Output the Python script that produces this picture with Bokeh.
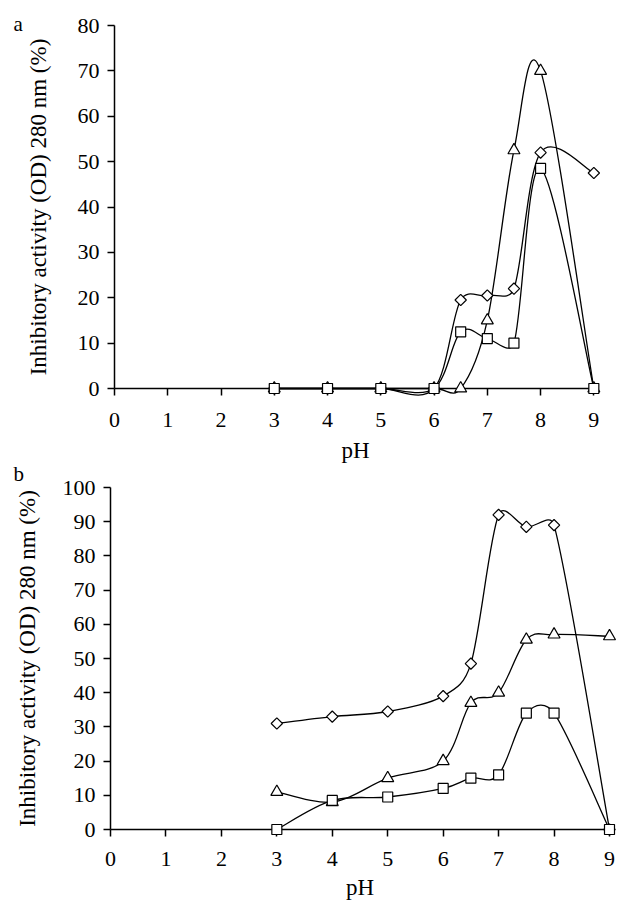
import math
from bokeh.plotting import figure
from bokeh.models import FixedTicker, Range1d, ColumnDataSource
from bokeh.core.properties import value
from bokeh.embed import file_html
from bokeh.resources import INLINE

# ---- data ----
ph = [3, 4, 5, 6, 6.5, 7, 7.5, 8, 9]
a_diamond = [0, 0, 0, 0, 19.5, 20.5, 22, 52, 47.5]
a_triangle = [0, 0, 0, 0, 0, 15, 52.5, 70, 0]
a_square = [0, 0, 0, 0, 12.5, 11, 10, 48.5, 0]
b_diamond = [31, 33, 34.5, 39, 48.5, 92, 88.5, 89, 0]
b_triangle = [11, 8, 15, 20, 37, 40, 55.5, 57, 56.5]
b_square = [0, 8.5, 9.5, 12, 15, 16, 34, 34, 0]
x_ticks = list(range(0, 10))
a_y_ticks = list(range(0, 81, 10))
b_y_ticks = list(range(0, 101, 10))
x_label = "pH"
y_label = "Inhibitory activity (OD) 280 nm (%)"

FONT = "Liberation Serif"


def smooth_segments(xs, ys, sx, sy):
    """Bezier segments of a smoothed line (Catmull-Rom, tension 1/6, with the
    control arm limited to half of the segment), in screen pixels."""
    n = len(xs)
    X = [x * sx for x in xs]
    Y = [y * sy for y in ys]
    d = [math.hypot(X[i + 1] - X[i], Y[i + 1] - Y[i]) for i in range(n - 1)]

    def tangent(i):
        a = max(i - 1, 0)
        b = min(i + 1, n - 1)
        return X[b] - X[a], Y[b] - Y[a]

    def arm(tx, ty, seg):
        L = math.hypot(tx, ty)
        if L == 0:
            return 0.0, 0.0
        a = min(L / 6, 0.5 * seg)
        return tx / L * a, ty / L * a

    out = dict(x0=[], y0=[], x1=[], y1=[], cx0=[], cy0=[], cx1=[], cy1=[])
    for i in range(n - 1):
        ax0, ay0 = arm(*tangent(i), d[i])
        ax1, ay1 = arm(*tangent(i + 1), d[i])
        out["x0"].append(xs[i]); out["y0"].append(ys[i])
        out["x1"].append(xs[i + 1]); out["y1"].append(ys[i + 1])
        out["cx0"].append((X[i] + ax0) / sx)
        out["cy0"].append((Y[i] + ay0) / sy)
        out["cx1"].append((X[i + 1] - ax1) / sx)
        out["cy1"].append((Y[i + 1] - ay1) / sy)
    return ColumnDataSource(out)


def make_fig(width, height, x_end, y_end, y_ticks, bl, br, bt, bb,
             x_std, x_lbl_std, y_std, y_lbl_std):
    p = figure(width=width, height=height,
               x_range=Range1d(0, x_end), y_range=Range1d(0, y_end),
               output_backend="svg", toolbar_location=None,
               min_border_left=bl, min_border_right=br,
               min_border_top=bt, min_border_bottom=bb)
    p.outline_line_color = None
    p.grid.visible = False
    p.background_fill_color = "white"
    p.xaxis.ticker = FixedTicker(ticks=x_ticks)
    p.yaxis.ticker = FixedTicker(ticks=y_ticks)
    for ax in (p.xaxis[0], p.yaxis[0]):
        ax.axis_line_color = "black"
        ax.axis_line_width = 1.5
        ax.major_tick_line_color = "black"
        ax.major_tick_line_width = 1.5
        ax.major_tick_out = 7
        ax.major_tick_in = 0
        ax.minor_tick_line_color = None
        ax.major_label_text_font = FONT
        ax.major_label_text_font_size = "22px"
        ax.major_label_text_color = "black"
        ax.axis_label_text_font = FONT
        ax.axis_label_text_font_size = "23px"
        ax.axis_label_text_font_style = "normal"
        ax.axis_label_text_color = "black"
    p.xaxis.axis_label = x_label
    p.yaxis.axis_label = y_label
    p.xaxis.major_label_standoff = x_std
    p.xaxis.axis_label_standoff = x_lbl_std
    p.yaxis.major_label_standoff = y_std
    p.yaxis.axis_label_standoff = y_lbl_std
    return p


def add_series(p, diamond, triangle, square, sx, sy):
    for ys in (diamond, triangle, square):
        p.bezier(x0="x0", y0="y0", x1="x1", y1="y1", cx0="cx0", cy0="cy0",
                 cx1="cx1", cy1="cy1", source=smooth_segments(ph, ys, sx, sy),
                 line_color="black", line_width=1.3, level="overlay")
    p.scatter(ph, diamond, marker="square", angle=math.pi / 4, size=8,
              fill_color="white", line_color="black", line_width=1.2, level="overlay")
    p.scatter(ph, triangle, marker="triangle", size=12,
              fill_color="white", line_color="black", line_width=1.2, level="overlay")
    p.scatter(ph, square, marker="square", size=10,
              fill_color="white", line_color="black", line_width=1.2, level="overlay")


def panel_letter(p, letter, dx_px, dy_px, sx, sy):
    # letter placed relative to the frame's (0, 0) corner, in pixels
    p.text(x=[dx_px / sx], y=[dy_px / sy], text=[letter],
           text_font=value(FONT), text_font_size="21px", text_color="black",
           text_baseline="alphabetic", text_align="left", level="overlay")


# panel a: frame 482 x 363 px over x 0..9.05, y 0..80
A_FW, A_FH, A_XE, A_YE = 482, 363, 9.05, 80
a_sx, a_sy = A_FW / A_XE, A_FH / A_YE
pa = make_fig(616, 476, A_XE, A_YE, a_y_ticks, 114, 20, 25, 88,
              17, 8, 8, 24)
pa.border_fill_color = "white"
add_series(pa, a_diamond, a_triangle, a_square, a_sx, a_sy)
panel_letter(pa, "a", -101, 365, a_sx, a_sy)

# panel b: frame 499 x 342 px over x 0..9, y 0..100; its transparent top border
# overlaps the bottom of panel a by 20 px so that the letter "b" sits in panel b
B_FW, B_FH, B_XE, B_YE = 499, 342, 9, 100
b_sx, b_sy = B_FW / B_XE, B_FH / B_YE
pb = make_fig(619, 452, B_XE, B_YE, b_y_ticks, 110, 10, 31, 79,
              15, 6, 8, 20)
pb.border_fill_color = None
pb.margin = (-20, 0, 0, 0)
add_series(pb, b_diamond, b_triangle, b_square, b_sx, b_sy)
panel_letter(pb, "b", -97, 356, b_sx, b_sy)

# two separate roots, so that the two plot frames are not aligned to each other
open("out.html", "w").write(file_html([pa, pb], INLINE))
